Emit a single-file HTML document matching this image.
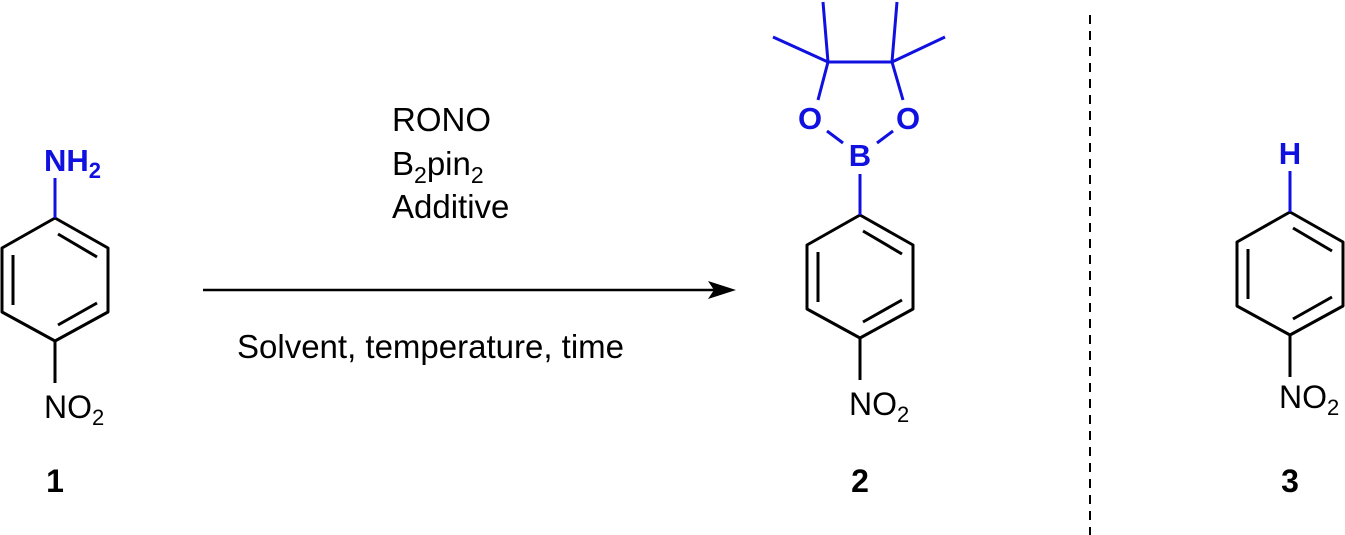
<!DOCTYPE html>
<html><head><meta charset="utf-8"><style>
html,body{margin:0;padding:0;background:#fff;}
svg{display:block;}
text{font-family:"Liberation Sans",Arial,sans-serif;}
</style></head><body>
<svg width="1345" height="535" viewBox="0 0 1345 535" xmlns="http://www.w3.org/2000/svg">
<defs>
<g id="ring" stroke="#000" stroke-width="3" fill="none" stroke-linejoin="round">
<polygon points="0,0 53,30 53,94 0,123 -53,94 -53,30"/>
<line x1="3" y1="16" x2="42" y2="39"/>
<line x1="-42" y1="37" x2="-42" y2="87"/>
<line x1="3" y1="107" x2="42" y2="85"/>
<line x1="0" y1="123" x2="0" y2="165"/>
</g>
</defs>
<!-- 1 -->
<use href="#ring" x="55" y="218"/>
<line x1="55" y1="218" x2="55" y2="178" stroke="#1010e0" stroke-width="3"/>
<text x="44" y="171" font-size="31" font-weight="bold" fill="#1010e0">NH<tspan font-size="22" dy="7">2</tspan></text>
<text x="44" y="418" font-size="32">NO<tspan font-size="22" dy="7">2</tspan></text>
<text x="55" y="492" font-size="32" font-weight="bold" text-anchor="middle">1</text>
<!-- reagents -->
<g font-size="33">
<text x="392" y="131">RONO</text>
<text x="392" y="175">B<tspan font-size="23" dy="8">2</tspan><tspan dy="-8">pin</tspan><tspan font-size="23" dy="8">2</tspan></text>
<text x="392" y="218">Additive</text>
<text x="237" y="358">Solvent, temperature, time</text>
</g>
<line x1="203" y1="290" x2="715" y2="290" stroke="#000" stroke-width="2.5"/>
<polygon points="736,290 708,281 714,290 708,299" fill="#000"/>
<!-- 2 -->
<use href="#ring" x="860" y="215"/>
<g stroke="#1010e0" stroke-width="3" fill="none">
<line x1="860" y1="215" x2="860" y2="174"/>
<line x1="828" y1="62" x2="892" y2="62"/>
<line x1="828" y1="62" x2="773" y2="37"/>
<line x1="828" y1="62" x2="823" y2="2"/>
<line x1="892" y1="62" x2="945" y2="37"/>
<line x1="892" y1="62" x2="897" y2="2"/>
<line x1="828" y1="62" x2="818" y2="100"/>
<line x1="892" y1="62" x2="903" y2="100"/>
<line x1="827" y1="131" x2="843" y2="143"/>
<line x1="893" y1="131" x2="877" y2="143"/>
</g>
<g font-size="31" font-weight="bold" fill="#1010e0" text-anchor="middle">
<text x="810" y="129">O</text>
<text x="908" y="129">O</text>
<text x="860" y="166">B</text>
</g>
<text x="849" y="415" font-size="32">NO<tspan font-size="22" dy="7">2</tspan></text>
<text x="860" y="492" font-size="32" font-weight="bold" text-anchor="middle">2</text>
<!-- dashed -->
<line x1="1090" y1="15" x2="1090" y2="535" stroke="#000" stroke-width="2" stroke-dasharray="9,7"/>
<!-- 3 -->
<use href="#ring" x="1290" y="212"/>
<line x1="1290" y1="212" x2="1290" y2="171" stroke="#1010e0" stroke-width="3"/>
<text x="1290" y="164" font-size="31" font-weight="bold" fill="#1010e0" text-anchor="middle">H</text>
<text x="1279" y="408" font-size="32">NO<tspan font-size="22" dy="7">2</tspan></text>
<text x="1290" y="492" font-size="32" font-weight="bold" text-anchor="middle">3</text>
</svg>
</body></html>
